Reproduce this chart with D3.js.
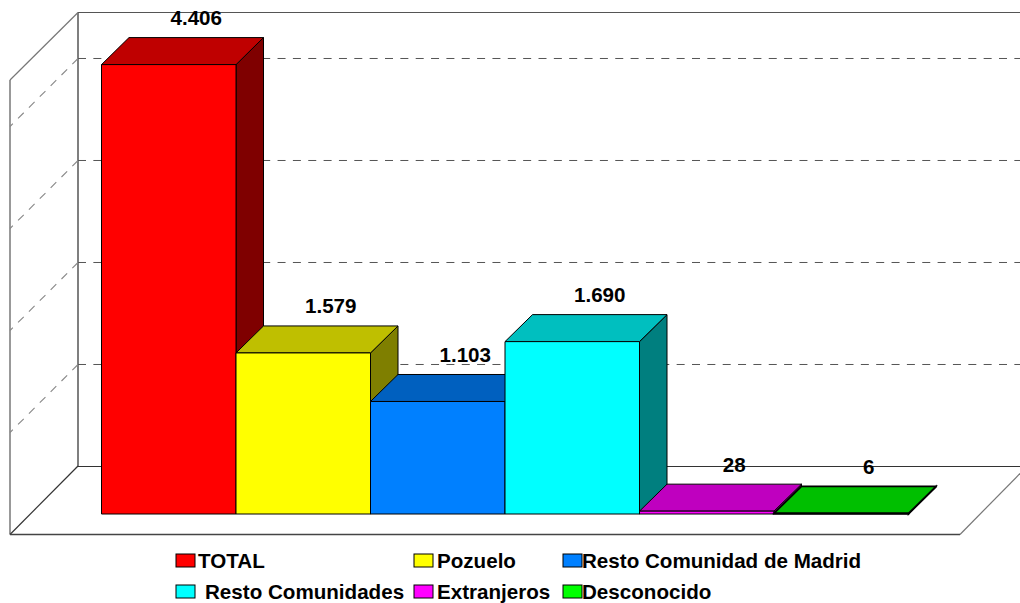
<!DOCTYPE html>
<html><head><meta charset="utf-8">
<script src="https://cdn.jsdelivr.net/npm/d3@7"></script>
<style>html,body{margin:0;padding:0;background:#fff}svg{display:block}text{font-family:"Liberation Sans",Arial,sans-serif;font-weight:bold;fill:#000}</style>
</head><body><svg id="c" width="1020" height="603"></svg>
<script>
const categories=["TOTAL","Pozuelo","Resto Comunidad de Madrid","Resto Comunidades","Extranjeros","Desconocido"];
const values=[4406,1579,1103,1690,28,6];
const valueLabels=["4.406","1.579","1.103","1.690","28","6"];
const frontColors=["#ff0000","#ffff00","#0080ff","#00ffff","#ff00ff","#00ff00"];
const topColors=["#bf0000","#bfbf00","#0060bf","#00bfbf","#bf00bf","#00bf00"];
const sideColors=["#7f0000","#7f7f00","#00407f","#007f7f","#7f007f","#007f00"];
const gridTicks=[1000,2000,3000,4000];
const legendX=[176,414,563,176,414,563];
const legendTextX=[198,437,582,205,437,582];
const legendY=[561,561,561,592,592,592];

const svg=d3.select("#c");
const x=d3.scaleBand().domain(categories).range([101.5,908.5]).padding(0);
const y=d3.scaleLinear().domain([0,4446]).range([514,60.5]);
const dx=27.5,dy=-27;
const wallL=10,backL=78,right=1020,wallDy=68;
const by=v=>466.5-(514-y(v));

const g=svg.append("g").attr("fill","none");
const line=(x1,y1,x2,y2,c,w,dash)=>g.append("line").attr("x1",x1).attr("y1",y1).attr("x2",x2).attr("y2",y2)
 .attr("stroke",c).attr("stroke-width",w).attr("stroke-dasharray",dash||null);
line(backL,12.5,right,12.5,"#555",1.2);
line(backL,12.5,backL,466,"#555",1.5);
line(backL,466.5,right,466.5,"#333",1);
line(wallL,80,backL,12.5,"#777",1.2);
line(wallL,80,wallL,534.5,"#777",1.5);
line(wallL,534.5,backL,466,"#333",1.2);
line(wallL,534.5,960,534.5,"#444",1.4);
line(960,534.5,1020,473.5,"#777",1.2);
gridTicks.forEach(t=>{
  line(backL,by(t),right,by(t),"#555",1,"8 7.35");
  line(backL,by(t),wallL,by(t)+wallDy,"#888",1.1,"8 7.35");
});
const bars=svg.append("g").selectAll("g").data(categories).join("g");
const bw=x.bandwidth();
bars.each(function(c,i){
  const s=d3.select(this),x0=x(c),x1=x0+bw,yt=y(values[i]),yb=y(0);
  const sw=i==5?1.6:1;
  const poly=(pts,fill)=>s.append("polygon").attr("points",pts.map(q=>q.join(",")).join(" ")).attr("fill",fill)
    .attr("stroke","#000").attr("stroke-width",sw);
  poly([[x1,yt],[x1+dx,yt+dy],[x1+dx,yb+dy],[x1,yb]],sideColors[i]);
  poly([[x0,yt],[x0+dx,yt+dy],[x1+dx,yt+dy],[x1,yt]],topColors[i]);
  poly([[x0,yt],[x1,yt],[x1,yb],[x0,yb]],frontColors[i]);
});
svg.append("g").selectAll("text").data(categories).join("text")
 .attr("x",(c)=>x(c)+bw/2+dx).attr("y",(c,i)=>y(values[i])+dy-12.5)
 .attr("text-anchor","middle").attr("font-size",20.6).text((c,i)=>valueLabels[i]);
const lg=svg.append("g").selectAll("g").data(categories).join("g");
lg.append("rect").attr("x",(c,i)=>legendX[i]).attr("y",(c,i)=>legendY[i]-7).attr("width",19).attr("height",13)
 .attr("fill",(c,i)=>frontColors[i]).attr("stroke","#000");
lg.append("text").attr("x",(c,i)=>legendTextX[i]).attr("y",(c,i)=>legendY[i]+6.5).attr("font-size",20.6).text(c=>c);
</script></body></html>
